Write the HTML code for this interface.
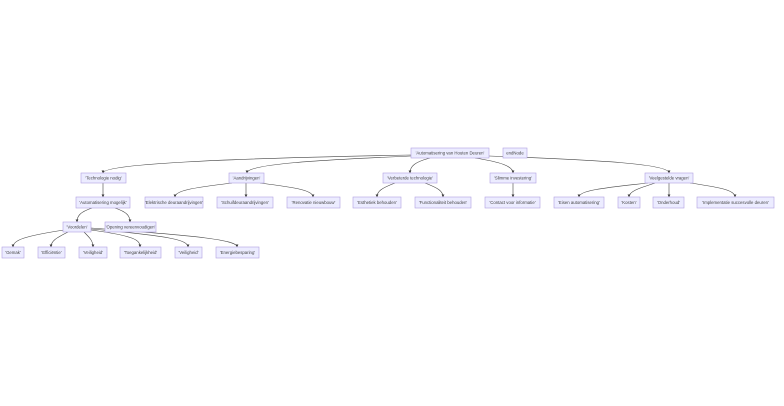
<!DOCTYPE html>
<html><head><meta charset="utf-8"><style>
html,body{margin:0;padding:0;background:#fff;width:784px;height:406px;overflow:hidden}
svg{display:block}
rect{fill:#ececff;stroke:#b0a0e0;stroke-width:0.6}
text{font-family:"Liberation Sans",sans-serif;font-size:4.3px;fill:#444;text-anchor:middle;dominant-baseline:central}
path{fill:none;stroke:#444;stroke-width:0.6;marker-end:url(#a)}
</style></head><body>
<svg width="784" height="406" viewBox="0 0 784 406">
<defs><marker id="a" viewBox="0 0 10 10" refX="9" refY="5" markerWidth="5" markerHeight="5" orient="auto"><path d="M0,0L10,5L0,10z" style="fill:#333;stroke:none;marker-end:none"/></marker></defs>
<path d="M411,155 C250,158 103,163 103,173"/>
<path d="M411,156 C320,160 247,164 247,173"/>
<path d="M430,158 C415,162 410,166 410,173"/>
<path d="M475,158 C500,162 513,166 513,173"/>
<path d="M489,156 C600,160 669,164 669,173"/>
<path d="M103,183 L103,197"/>
<path d="M232,183 C190,188 175,191 175,197"/>
<path d="M246,183 L246,197"/>
<path d="M260,183 C300,188 313,191 313,197"/>
<path d="M395,183 C382,188 377,191 377,197"/>
<path d="M425,183 C438,188 443,191 443,197"/>
<path d="M513,183 L513,197"/>
<path d="M648,183 C600,188 579,191 579,197"/>
<path d="M655,183 C640,188 629,191 629,197"/>
<path d="M669,183 L669,197"/>
<path d="M690,183 C725,188 735,191 735,197"/>
<path d="M92,208 C80,212 77,216 77,222"/>
<path d="M115,208 C127,212 130,216 130,222"/>
<path d="M64,230 C25,236 13,240 13,247"/>
<path d="M68,232 C56,238 51,241 51,247"/>
<path d="M84,232 C90,238 93,241 93,247"/>
<path d="M91,230 C135,236 140,240 140,247"/>
<path d="M91,229 C170,236 188,240 188,247"/>
<path d="M91,228 C200,236 237,240 237,247"/>
<rect x="411" y="148" width="78" height="10"/><text x="450" y="153">'Automatisering van Houten Deuren'</text>
<rect x="503" y="148" width="24" height="10"/><text x="515" y="153">endNode</text>
<rect x="81" y="173" width="45" height="10"/><text x="103.5" y="178">'Technologie nodig'</text>
<rect x="229" y="173" width="35" height="10"/><text x="246.5" y="178">'Aandrijvingen'</text>
<rect x="383" y="173" width="54" height="10"/><text x="410" y="178">'Verbeterde technologie'</text>
<rect x="490" y="173" width="46" height="10"/><text x="513" y="178">'Slimme investering'</text>
<rect x="645" y="173" width="48" height="10"/><text x="669" y="178">'Veelgestelde vragen'</text>
<rect x="76" y="197" width="54" height="11"/><text x="103" y="202.5">'Automatisering mogelijk'</text>
<rect x="145" y="197" width="58" height="11"/><text x="174" y="202.5">'Elektrische deuraandrijvingen'</text>
<rect x="217" y="197" width="56" height="11"/><text x="245" y="202.5">'Schuifdeuraandrijvingen'</text>
<rect x="287" y="197" width="53" height="11"/><text x="313.5" y="202.5">'Renovatie nieuwbouw'</text>
<rect x="353" y="197" width="48" height="11"/><text x="377" y="202.5">'Esthetiek behouden'</text>
<rect x="415" y="197" width="56" height="11"/><text x="443" y="202.5">'Functionaliteit behouden'</text>
<rect x="485" y="197" width="55" height="11"/><text x="512.5" y="202.5">'Contact voor informatie'</text>
<rect x="554" y="197" width="50" height="11"/><text x="579" y="202.5">'Eisen automatisering'</text>
<rect x="618" y="197" width="22" height="11"/><text x="629" y="202.5">'Kosten'</text>
<rect x="653" y="197" width="31" height="11"/><text x="668.5" y="202.5">'Onderhoud'</text>
<rect x="697" y="197" width="77" height="11"/><text x="735.5" y="202.5">'Implementatie succesvolle deuren'</text>
<rect x="63" y="222" width="28" height="10"/><text x="77" y="227">'Voordelen'</text>
<rect x="105" y="222" width="51" height="10"/><text x="130.5" y="227">'Opening vereenvoudigen'</text>
<rect x="2" y="247" width="22" height="11"/><text x="13" y="252.5">'Gemak'</text>
<rect x="38" y="247" width="27" height="11"/><text x="51.5" y="252.5">'Efficiëntie'</text>
<rect x="79" y="247" width="28" height="11"/><text x="93" y="252.5">'Veiligheid'</text>
<rect x="120" y="247" width="41" height="11"/><text x="140.5" y="252.5">'Toegankelijkheid'</text>
<rect x="175" y="247" width="27" height="11"/><text x="188.5" y="252.5">'Veiligheid'</text>
<rect x="216" y="247" width="43" height="11"/><text x="237.5" y="252.5">'Energiebesparing'</text>
</svg>
</body></html>
